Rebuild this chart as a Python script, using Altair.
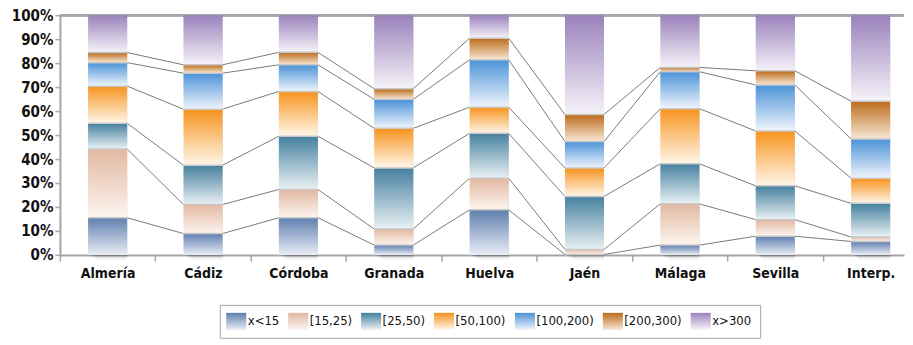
import altair as alt
import pandas as pd

categories = ["Almería", "Cádiz", "Córdoba", "Granada", "Huelva", "Jaén", "Málaga", "Sevilla", "Interp."]
series = ["x<15", "[15,25)", "[25,50)", "[50,100)", "[100,200)", "[200,300)", "x>300"]

v_lt15 = [15.5, 8.9, 15.5, 4.1, 18.8, 0.2, 4.1, 7.8, 5.6]
v_15_25 = [28.7, 12.1, 11.8, 6.7, 13.2, 2.1, 17.2, 6.9, 1.9]
v_25_50 = [10.7, 16.4, 22.2, 25.5, 18.7, 22.1, 16.7, 14.1, 14.0]
v_50_100 = [15.5, 23.4, 18.7, 16.5, 10.9, 11.9, 23.0, 22.9, 10.5]
v_100_200 = [9.8, 15.0, 11.1, 12.1, 19.8, 11.0, 15.4, 19.2, 16.4]
v_200_300 = [4.2, 3.5, 5.2, 4.4, 9.0, 11.3, 1.8, 5.9, 15.7]
v_gt300 = [15.6, 20.7, 15.5, 30.7, 9.6, 41.4, 21.8, 23.2, 35.9]

top_colors = ["#5f7fae", "#e2b8a0", "#45809f", "#f7931e", "#4b93d8", "#bb6b1a", "#9a82bb"]
bottom_colors = ["#e9edf6", "#fdf5f0", "#eaf1f4", "#fff7ea", "#f0f5fc", "#f8e8d6", "#f6f3f9"]

all_values = [v_lt15, v_15_25, v_25_50, v_50_100, v_100_200, v_200_300, v_gt300]

HALF = 0.205
FONT = "DejaVu Sans Condensed"

rows = []
cum = {}
for i, cat in enumerate(categories):
    base = 0.0
    cum[i] = []
    for k, s in enumerate(series):
        v = all_values[k][i]
        rows.append({"cat": cat, "idx": i, "series": s, "order": k,
                     "y0": base, "y1": base + v,
                     "xl": i - HALF, "xr": i + HALF})
        base += v
        cum[i].append(base)
seg = pd.DataFrame(rows)

line_rows = []
for i in range(len(categories) - 1):
    for k in range(len(series) - 1):
        line_rows.append({"xa": i + HALF, "xb": i + 1 - HALF,
                          "ya": cum[i][k], "yb": cum[i + 1][k]})
lines = pd.DataFrame(line_rows)

bars_df = pd.DataFrame({"cat": categories,
                        "xl": [i - HALF for i in range(len(categories))],
                        "xr": [i + HALF for i in range(len(categories))],
                        "y0": [0] * len(categories),
                        "y1": [100] * len(categories)})

grad_exprs = [
    {"expr": "{gradient:'linear',x1:0,y1:0,x2:0,y2:1,stops:[{offset:0,color:'%s'},{offset:1,color:'%s'}]}" % (t, b)}
    for t, b in zip(top_colors, bottom_colors)
]

W = 845
DOM = [-0.5, 8.35]
band = W / (DOM[1] - DOM[0])

xscale = alt.Scale(domain=DOM, nice=False, zero=False)
yscale = alt.Scale(domain=[0, 100], nice=False)

label_arr = "[" + ",".join("'%s'" % c for c in categories) + "]"

x_axis = alt.Axis(values=[i - 0.5 for i in range(len(categories))],
                  labelExpr=label_arr + "[round(datum.value+0.5)]",
                  labelOffset=band / 2, labelFlush=False, labelOverlap=False,
                  labelBound=False, grid=False, title=None,
                  domainColor="#a6a6a6", domainWidth=2, tickColor="#a6a6a6",
                  tickSize=6, tickWidth=1.5, labelFont=FONT, labelFontSize=14,
                  labelFontWeight="bold", labelColor="#111111", labelPadding=6)
y_axis = alt.Axis(values=[0, 10, 20, 30, 40, 50, 60, 70, 80, 90, 100],
                  labelExpr="datum.value + '%'", tickCount=11,
                  labelOverlap=False, labelFlush=False, labelBound=False,
                  grid=False, title=None, domainColor="#a6a6a6", domainWidth=2,
                  tickColor="#a6a6a6", tickSize=5, tickWidth=1.5, labelFont=FONT,
                  labelFontSize=15, labelFontWeight="bold", labelColor="#111111",
                  labelPadding=2)

shadow_layers = []
for off, op in [(2, 0.10), (4, 0.07), (6, 0.05), (8, 0.03)]:
    shadow_layers.append(
        alt.Chart(bars_df).mark_bar(color="#000000", opacity=op, xOffset=off, yOffset=off * 0.6).encode(
            x=alt.X("xl:Q", scale=xscale, axis=x_axis),
            x2="xr:Q",
            y=alt.Y("y0:Q", scale=yscale, axis=y_axis),
            y2="y1:Q",
        )
    )

top_line = alt.Chart(bars_df).mark_rule(color="#a6a6a6", strokeWidth=2).encode(
    y=alt.Y(datum=100, scale=yscale, axis=y_axis)
)

connectors = alt.Chart(lines).mark_rule(color="#7a7a7a", strokeWidth=1).encode(
    x=alt.X("xa:Q", scale=xscale, axis=x_axis), x2="xb:Q",
    y=alt.Y("ya:Q", scale=yscale, axis=y_axis), y2="yb:Q"
)

segments = alt.Chart(seg).mark_bar(strokeWidth=0).encode(
    x=alt.X("xl:Q", scale=xscale, axis=x_axis), x2="xr:Q",
    y=alt.Y("y0:Q", scale=yscale, axis=y_axis), y2="y1:Q",
    color=alt.Color("series:N", sort=series,
                    scale=alt.Scale(domain=series, range=grad_exprs),
                    legend=alt.Legend(orient="none", legendX=160, legendY=290,
                                      direction="horizontal", title=None,
                                      strokeColor="#a6a6a6", fillColor="white",
                                      padding=8, symbolType="M-1.18,-1H1.18V1H-1.18Z",
                                      symbolSize=289, symbolStrokeWidth=0,
                                      symbolOpacity=1, labelFont=FONT,
                                      labelFontSize=13, labelColor="#111111",
                                      labelOffset=3, columnPadding=8, labelLimit=0)),
    order=alt.Order("order:Q"),
)

separators = alt.Chart(seg[seg["order"] < 6]).mark_rule(color="#c8c8c8", strokeWidth=1.5).encode(
    x=alt.X("xl:Q", scale=xscale, axis=x_axis), x2="xr:Q",
    y=alt.Y("y1:Q", scale=yscale, axis=y_axis)
)

chart = alt.layer(*shadow_layers, top_line, connectors, segments, separators).properties(
    width=W, height=240, padding={"left": 3, "right": 0, "top": 0, "bottom": 0}
).configure_view(stroke=None)

chart.save("out.html", embed_options={"renderer": "svg", "actions": False})
